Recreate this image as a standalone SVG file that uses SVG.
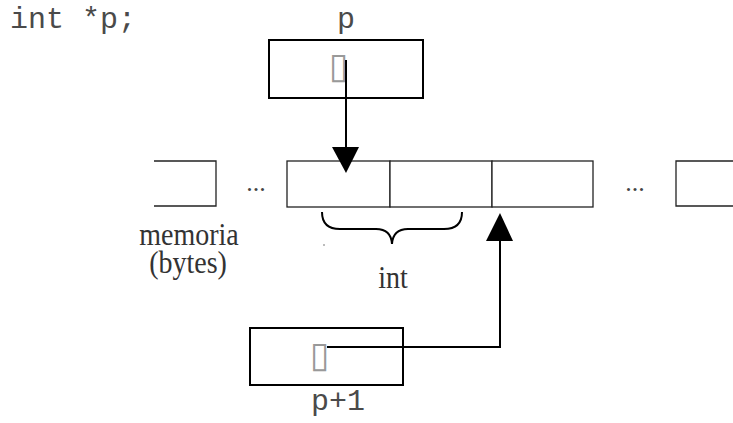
<svg xmlns="http://www.w3.org/2000/svg" width="733" height="423" viewBox="0 0 733 423">
<style>
.mono{font-family:"Liberation Mono","Courier New",monospace;font-size:30px;fill:#4a4a4a}
.serif{font-family:"Liberation Serif","Times New Roman",serif;font-size:32px;fill:#333}
.tofu{font-family:"DejaVu Sans",sans-serif;font-size:36px;fill:#999}
.ptr{fill:#fff;stroke:#000;stroke-width:2}
.cell{fill:#fff;stroke:#222;stroke-width:1.3}
.wire{fill:none;stroke:#000;stroke-width:2}
.brace{fill:none;stroke:#000;stroke-width:2}
.dots{font-family:"Liberation Serif",serif;font-size:26px;fill:#444}
</style>
<rect width="733" height="423" fill="#fff"/>
<text class="mono" x="10" y="28">int *p;</text>

<g id="memory">
  <path class="cell" d="M154,161 H216 V206 H154" fill="none"/>
  <text class="dots" x="256" y="191" text-anchor="middle">...</text>
  <rect class="cell" x="287" y="161" width="103" height="46"/>
  <rect class="cell" x="390" y="161" width="102" height="46"/>
  <rect class="cell" x="492" y="161" width="101" height="46"/>
  <text class="dots" x="635" y="191" text-anchor="middle">...</text>
  <path class="cell" d="M733,161 H676 V206 H733" fill="none"/>
  <text class="serif" transform="translate(189,245) scale(0.875,1)" text-anchor="middle">memoria</text>
  <text class="serif" transform="translate(188,273) scale(0.875,1)" text-anchor="middle">(bytes)</text>
</g>

<g id="int-brace">
  <path class="brace" d="M322,212 Q322,229 340,229 L376,229 Q391,229 392,244 Q393,229 408,229 L444,229 Q462,229 462,212"/>
  <circle cx="324" cy="245" r="0.8" fill="#666"/>
  <text class="serif" transform="translate(393,288) scale(0.875,1)" text-anchor="middle">int</text>
</g>

<g id="p">
  <text class="mono" x="346" y="28" text-anchor="middle">p</text>
  <rect class="ptr" x="269" y="40" width="154" height="58"/>
  <text class="tofu" x="339" y="78" text-anchor="middle">▯</text>
</g>

<g id="p1">
  <rect class="ptr" x="250" y="328" width="153" height="57"/>
  <text class="tofu" x="320" y="367" text-anchor="middle">▯</text>
  <text class="mono" x="338" y="410" text-anchor="middle">p+1</text>
</g>

<g id="connectors">
  <path class="wire" d="M346,60 V148"/>
  <polygon points="332,147 359,147 346,173" fill="#000"/>
  <path class="wire" d="M327,347 H500 V240"/>
  <polygon points="486,241 513,241 500,213" fill="#000"/>
</g>
</svg>
